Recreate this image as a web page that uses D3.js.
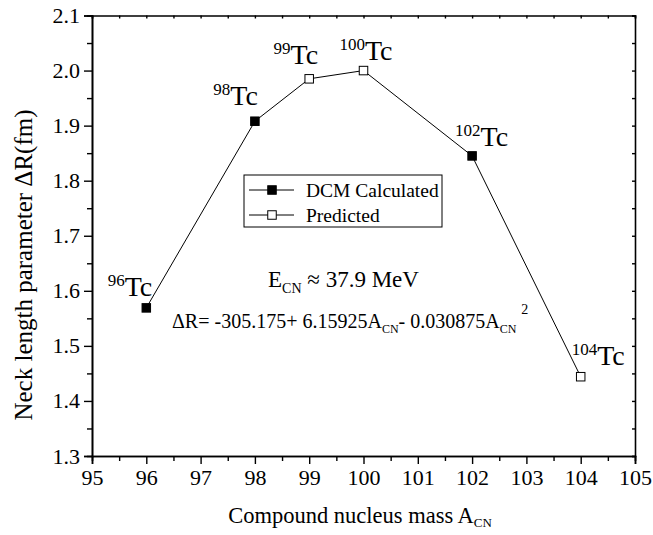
<!DOCTYPE html>
<html>
<head>
  <script type="text/javascript" src="https://d3js.org/d3.v7.min.js"></script>
  <style type="text/css">
  html, body {
    margin: 0px;
    background: #fff;
  }
  </style>
</head>
<body>
<script>
"use strict";

// Data
const MASS = [96, 98, 99, 100, 102, 104];
const DELTA_R = [1.569, 1.908, 1.985, 2.0, 1.845, 1.444];
const KIND = ["calc", "calc", "pred", "pred", "calc", "pred"]; // filled = DCM calculated, open = predicted
const ISOTOPE = ["96", "98", "99", "100", "102", "104"];
const X_TICKS = [95, 96, 97, 98, 99, 100, 101, 102, 103, 104, 105];
const Y_TICKS = [1.3, 1.4, 1.5, 1.6, 1.7, 1.8, 1.9, 2.0, 2.1];
const LEGEND = [["calc", "DCM Calculated"], ["pred", "Predicted"]];

// Label placement relative to each marker (anchor, dx, dy)
const LABEL_POS = [
  ["end", 6, -12], ["end", 3, -16], ["end", 9, -15],
  ["end", 29, -11], ["start", -17, -10], ["start", -9, -12]
];

const FONT = "'Liberation Serif'";

// Dimensions
const WIDTH = 653;
const HEIGHT = 535;
const MARGIN = {top: 15.5, right: 18, bottom: 79, left: 92};
const CHART_WIDTH = WIDTH - MARGIN.left - MARGIN.right;
const CHART_HEIGHT = HEIGHT - MARGIN.top - MARGIN.bottom;

const SVG = d3.select("body").append("svg")
  .attr("width", WIDTH)
  .attr("height", HEIGHT);

const G = SVG.append("g")
  .attr("transform", `translate(${MARGIN.left},${MARGIN.top})`);

const X_SCALE = d3.scaleLinear().domain([95, 105]).range([0, CHART_WIDTH]);
const Y_SCALE = d3.scaleLinear().domain([1.3, 2.1]).range([CHART_HEIGHT, 0]);

const xMinor = d3.range(95.5, 105, 1);
const yMinor = d3.range(1.35, 2.1, 0.1);

function styleAxis(g) {
  g.attr("font-family", null);
  g.selectAll(".domain").attr("stroke-width", 1.6);
  g.selectAll(".tick line").attr("stroke-width", 1.4);
  g.selectAll("text").style("font-size", "22px");
}

// bottom axis: major + minor ticks outward
G.append("g")
  .attr("transform", `translate(0,${CHART_HEIGHT})`)
  .call(d3.axisBottom(X_SCALE).tickValues(xMinor).tickSize(5).tickFormat(""))
  .call(styleAxis);
G.append("g")
  .attr("transform", `translate(0,${CHART_HEIGHT})`)
  .call(d3.axisBottom(X_SCALE).tickValues(X_TICKS).tickSize(8).tickPadding(5).tickFormat(d3.format("d")))
  .call(styleAxis);

// left axis
G.append("g")
  .call(d3.axisLeft(Y_SCALE).tickValues(yMinor).tickSize(5).tickFormat(""))
  .call(styleAxis);
G.append("g")
  .call(d3.axisLeft(Y_SCALE).tickValues(Y_TICKS).tickSize(8).tickPadding(4).tickFormat(d3.format(".1f")))
  .call(styleAxis);

// top and right mirror axes with short inward ticks
G.append("g")
  .call(d3.axisTop(X_SCALE).tickValues(X_TICKS.concat(xMinor)).tickSize(-3).tickFormat(""))
  .call(styleAxis);
G.append("g")
  .attr("transform", `translate(${CHART_WIDTH},0)`)
  .call(d3.axisRight(Y_SCALE).tickValues(Y_TICKS.concat(yMinor)).tickSize(-3).tickFormat(""))
  .call(styleAxis);

// axis titles
const xTitle = SVG.append("text")
  .attr("x", 360)
  .attr("y", 523)
  .attr("text-anchor", "middle")
  .style("font-size", "22.5px")
  .text("Compound nucleus mass A");
xTitle.append("tspan").attr("dy", 4).style("font-size", "13px").text("CN");

SVG.append("text")
  .attr("transform", "translate(32,265) rotate(-90)")
  .attr("text-anchor", "middle")
  .style("font-size", "25px")
  .text("Neck length parameter \u0394R(fm)");

// data line
const points = MASS.map((m, i) => ({m: m, r: DELTA_R[i], kind: KIND[i], iso: ISOTOPE[i], pos: LABEL_POS[i]}));

G.append("path")
  .datum(points)
  .attr("fill", "none")
  .attr("stroke", "#000")
  .attr("stroke-width", 1)
  .attr("d", d3.line().x(d => X_SCALE(d.m)).y(d => Y_SCALE(d.r)));

const MS = 8.5;
G.selectAll("rect.marker")
  .data(points)
  .join("rect")
  .attr("class", "marker")
  .attr("x", d => X_SCALE(d.m) - MS / 2)
  .attr("y", d => Y_SCALE(d.r) - MS / 2)
  .attr("width", MS)
  .attr("height", MS)
  .attr("fill", d => d.kind === "calc" ? "#000" : "#fff")
  .attr("stroke", "#000")
  .attr("stroke-width", 1);

// isotope labels
const labels = G.selectAll("text.iso")
  .data(points)
  .join("text")
  .attr("class", "iso")
  .attr("text-anchor", d => d.pos[0])
  .attr("x", d => X_SCALE(d.m) + d.pos[1])
  .attr("y", d => Y_SCALE(d.r) + d.pos[2]);
labels.append("tspan").attr("dy", -10).style("font-size", "17px").text(d => d.iso);
labels.append("tspan").attr("dy", 10).style("font-size", "28px").text("Tc");

// legend
const LEG = SVG.append("g").attr("transform", "translate(244,175)");
LEG.append("rect")
  .attr("width", 198)
  .attr("height", 52)
  .attr("fill", "#fff")
  .attr("stroke", "#000")
  .attr("stroke-width", 1);
const items = LEG.selectAll("g.item")
  .data(LEGEND)
  .join("g")
  .attr("class", "item")
  .attr("transform", (d, i) => `translate(0,${15 + i * 25})`);
items.append("line")
  .attr("x1", 5).attr("x2", 50)
  .attr("stroke", "#000").attr("stroke-width", 1);
items.append("rect")
  .attr("x", 28 - MS / 2).attr("y", -MS / 2)
  .attr("width", MS).attr("height", MS)
  .attr("fill", d => d[0] === "calc" ? "#000" : "#fff")
  .attr("stroke", "#000");
items.append("text")
  .attr("x", 62)
  .attr("y", 6.5)
  .style("font-size", "19.5px")
  .text(d => d[1]);

// annotations
const ecn = SVG.append("text")
  .attr("x", 268)
  .attr("y", 287)
  .style("font-size", "23px")
  .text("E");
ecn.append("tspan").attr("dy", 6).style("font-size", "14px").text("CN");
ecn.append("tspan").attr("dy", -6).text(" \u2248 37.9 MeV");

const eq = SVG.append("text")
  .attr("x", 172)
  .attr("y", 328)
  .style("font-size", "20px")
  .text("\u0394R= -305.175+ 6.15925A");
eq.append("tspan").attr("dy", 5).style("font-size", "12px").text("CN");
eq.append("tspan").attr("dy", -5).text("- 0.030875A");
eq.append("tspan").attr("dy", 5).style("font-size", "12px").text("CN");
eq.append("tspan").attr("dy", -19).attr("dx", 5).style("font-size", "14px").text("2");

// serif everywhere
SVG.selectAll("text").style("font-family", FONT);
</script>
</body>
</html>
